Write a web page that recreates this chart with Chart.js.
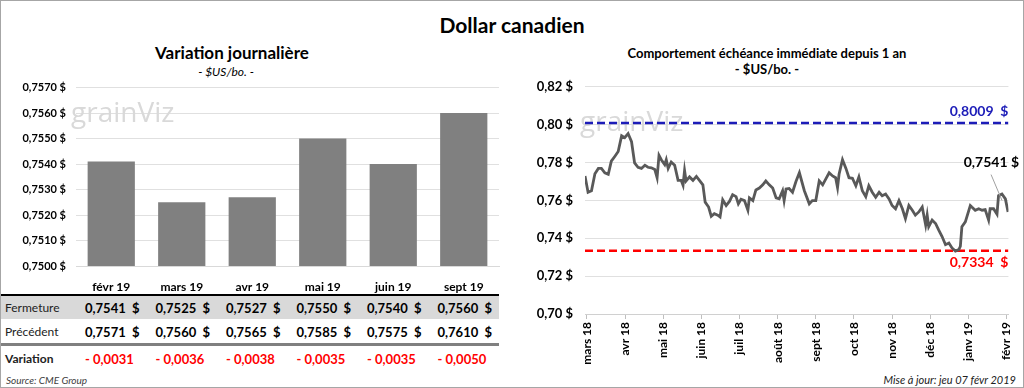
<!DOCTYPE html>
<html>
<head>
<meta charset="utf-8">
<script src="https://cdn.jsdelivr.net/npm/chart.js@4.4.1/dist/chart.umd.min.js"></script>
<style>
  body { margin: 0; background: #fff; font-family: Lato, "Open Sans", sans-serif; }
  #frame { position: relative; width: 1022px; height: 386px; border: 1px solid #a6a6a6; overflow: hidden; }
  .txt { position: absolute; white-space: nowrap; color: #000; }
  canvas { position: absolute; }
  .row { position: absolute; left: 0; width: 498px; height: 23px; display: flex; align-items: center; font-size: 13px; }
  .row .lab { width: 75px; padding-left: 4px; box-sizing: border-box; font-size: 12px; }
  .row .cell { width: 70.5px; padding-left: 9px; box-sizing: border-box; font-weight: bold; }
</style>
</head>
<body>
<div id="frame">
  <div class="txt" style="left:0;width:1022px;top:11px;text-align:center;font-weight:bold;font-size:21px;">Dollar canadien</div>

  <div class="txt" style="left:0;width:462px;top:41px;text-align:center;font-weight:bold;font-size:17px;">Variation journalière</div>
  <div class="txt" style="left:0;width:450px;top:63px;text-align:center;font-style:italic;font-size:12px;">- $US/bo. -</div>

  <div class="txt" style="left:512px;width:508px;top:44px;text-align:center;font-weight:bold;font-size:13px;">Comportement échéance immédiate depuis 1 an</div>
  <div class="txt" style="left:512px;width:508px;top:60px;text-align:center;font-weight:bold;font-size:13px;">- $US/bo. -</div>

  <canvas id="barChart" width="505" height="225" style="left:0;top:70px;"></canvas>
  <canvas id="lineChart" width="512" height="297" style="left:511px;top:66px;"></canvas>

  <div id="table"></div>

  <div class="txt" style="left:5px;top:373px;font-style:italic;font-size:10px;color:#404040;">Source: CME Group</div>
  <div class="txt" style="right:7px;top:372px;font-style:italic;font-size:11px;color:#202020;">Mise à jour: jeu 07 févr 2019</div>
</div>

<script>
// ---- bar chart / table data ----
const contracts = ['févr 19', 'mars 19', 'avr 19', 'mai 19', 'juin 19', 'sept 19'];
const closeValues = [0.7541, 0.7525, 0.7527, 0.7550, 0.7540, 0.7560];
const previousValues = [0.7571, 0.7560, 0.7565, 0.7585, 0.7575, 0.7610];
const changeValues = [-0.0031, -0.0036, -0.0038, -0.0035, -0.0035, -0.0050];

// ---- line chart data (x = months since mars 18) ----
const monthLabels = ['mars 18', 'avr 18', 'mai 18', 'juin 18', 'juil 18', 'août 18',
                     'sept 18', 'oct 18', 'nov 18', 'déc 18', 'janv 19', 'févr 19'];
const lineMonths = [
  -0.05, 0.03, 0.12, 0.21, 0.30, 0.38, 0.47, 0.56, 0.64, 0.73, 0.82, 0.91, 0.99, 1.08, 1.17,
  1.25, 1.34, 1.43, 1.52, 1.60, 1.69, 1.78, 1.84, 1.89, 1.95, 2.04, 2.08, 2.13, 2.21, 2.30,
  2.39, 2.47, 2.52, 2.56, 2.60, 2.69, 2.78, 2.87, 2.95, 3.04, 3.10, 3.19, 3.26, 3.34, 3.43,
  3.49, 3.56, 3.65, 3.74, 3.82, 3.91, 3.97, 4.04, 4.13, 4.22, 4.26, 4.35, 4.43, 4.52, 4.61,
  4.69, 4.78, 4.87, 4.96, 5.04, 5.13, 5.17, 5.22, 5.30, 5.39, 5.48, 5.57, 5.70, 5.83, 5.91,
  6.00, 6.09, 6.18, 6.26, 6.35, 6.44, 6.52, 6.57, 6.61, 6.70, 6.79, 6.87, 6.96, 7.05, 7.13,
  7.22, 7.31, 7.39, 7.48, 7.57, 7.66, 7.74, 7.83, 7.92, 8.00, 8.09, 8.18, 8.27, 8.35, 8.44,
  8.53, 8.61, 8.70, 8.79, 8.88, 8.92, 8.96, 9.05, 9.14, 9.22, 9.31, 9.40, 9.49, 9.57, 9.66,
  9.75, 9.79, 9.83, 9.92, 10.05, 10.09, 10.18, 10.27, 10.36, 10.44, 10.53, 10.57, 10.66, 10.75, 10.79,
  10.88, 10.97, 11.04
];
const lineValues = [
  0.7729, 0.7643, 0.7651, 0.7741, 0.7769, 0.7769, 0.7746, 0.7738, 0.7807, 0.7832, 0.7858, 0.7941, 0.7931, 0.7953, 0.7910,
  0.7798, 0.7775, 0.7769, 0.7786, 0.7775, 0.7772, 0.7763, 0.7720, 0.7838, 0.7815, 0.7789, 0.7815, 0.7769, 0.7803, 0.7786,
  0.7706, 0.7706, 0.7680, 0.7758, 0.7703, 0.7724, 0.7706, 0.7727, 0.7706, 0.7682, 0.7591, 0.7565, 0.7516, 0.7530, 0.7522,
  0.7513, 0.7603, 0.7573, 0.7596, 0.7630, 0.7620, 0.7582, 0.7606, 0.7599, 0.7548, 0.7613, 0.7599, 0.7655, 0.7665, 0.7682,
  0.7703, 0.7682, 0.7665, 0.7613, 0.7608, 0.7651, 0.7599, 0.7660, 0.7663, 0.7643, 0.7700, 0.7746, 0.7651, 0.7582, 0.7599,
  0.7599, 0.7703, 0.7682, 0.7712, 0.7746, 0.7729, 0.7720, 0.7668, 0.7738, 0.7815, 0.7769, 0.7720, 0.7717, 0.7677, 0.7724,
  0.7651, 0.7620, 0.7677, 0.7643, 0.7617, 0.7643, 0.7625, 0.7634, 0.7608, 0.7573, 0.7556, 0.7599, 0.7556, 0.7504, 0.7573,
  0.7548, 0.7522, 0.7539, 0.7565, 0.7470, 0.7522, 0.7461, 0.7496, 0.7478, 0.7444, 0.7409, 0.7366, 0.7375, 0.7349, 0.7332,
  0.7340, 0.7358, 0.7461, 0.7487, 0.7573, 0.7565, 0.7548, 0.7556, 0.7548, 0.7551, 0.7496, 0.7556, 0.7556, 0.7527, 0.7625,
  0.7634, 0.7608, 0.7539
];
const highValue = 0.8009;
const lowValue = 0.7334;
const lastValue = 0.7541;

const fontFamily = 'Lato, "Open Sans", sans-serif';

function fmt(v, d) {
    return v.toFixed(d).replace('.', ',');
}

// ---- table under the bars ----
function buildTable() {
    const t = document.getElementById('table');
    const rows = [
        { label: 'Fermeture', values: closeValues.map(v => fmt(v, 4) + '&nbsp;&nbsp;$'), top: 295, bg: '#d9d9d9', bold: false, color: '#000' },
        { label: 'Précédent', values: previousValues.map(v => fmt(v, 4) + '&nbsp;&nbsp;$'), top: 319, bg: '#fff', bold: false, color: '#000' },
        { label: 'Variation', values: changeValues.map(v => '- ' + fmt(Math.abs(v), 4)), top: 346, bg: '#fff', bold: true, color: '#ff0000' }
    ];
    let html = '<div style="position:absolute;left:0;top:293px;width:498px;height:2px;background:#000;"></div>';
    html += '<div style="position:absolute;left:0;top:342px;width:498px;height:3px;background:#808080;"></div>';
    rows.forEach(r => {
        html += `<div class="row" style="top:${r.top}px;background:${r.bg};">`;
        html += `<div class="lab" style="font-weight:${r.bold ? 'bold' : 'normal'};color:#222;">${r.label}</div>`;
        r.values.forEach(v => { html += `<div class="cell" style="color:${r.color};">${v}</div>`; });
        html += '</div>';
    });
    t.innerHTML = html;
}
buildTable();

// faint logo behind the plots
const watermark = {
    id: 'watermark',
    beforeDatasetsDraw(chart, args, opts) {
        const ctx = chart.ctx;
        ctx.save();
        ctx.font = '28px "Open Sans", ' + fontFamily;
        ctx.fillStyle = '#d9d9d9';
        ctx.textBaseline = 'middle';
        ctx.fillText('grainViz', chart.chartArea.left + opts.dx, chart.chartArea.top + opts.dy);
        ctx.restore();
    }
};

// labels for the high / low / last lines
const lineLabels = {
    id: 'lineLabels',
    afterDatasetsDraw(chart) {
        const ctx = chart.ctx;
        const y = chart.scales.y;
        const x = chart.scales.x;
        const right = chart.chartArea.right;
        ctx.save();
        ctx.font = 'bold 14px ' + fontFamily;
        ctx.textAlign = 'right';

        ctx.fillStyle = '#1c1cb8';
        ctx.textBaseline = 'bottom';
        ctx.fillText(fmt(highValue, 4) + '  $', right, y.getPixelForValue(highValue) - 4);

        ctx.fillStyle = '#ff0000';
        ctx.textBaseline = 'top';
        ctx.fillText(fmt(lowValue, 4) + '  $', right, y.getPixelForValue(lowValue) + 5);

        const lx = x.getPixelForValue(lineMonths[lineMonths.length - 1]);
        const ly = y.getPixelForValue(lastValue);
        ctx.strokeStyle = '#a0a0a0';
        ctx.lineWidth = 1;
        ctx.beginPath();
        ctx.moveTo(lx - 17, ly - 37);
        ctx.lineTo(lx - 6, ly - 11);
        ctx.stroke();

        ctx.fillStyle = '#000';
        ctx.textBaseline = 'middle';
        ctx.fillText(fmt(lastValue, 4) + ' $', lx + 11, ly - 49);
        ctx.restore();
    }
};

new Chart(document.getElementById('barChart').getContext('2d'), {
    type: 'bar',
    data: {
        labels: contracts,
        datasets: [{
            data: closeValues,
            backgroundColor: '#808080',
            barPercentage: 0.67,
            categoryPercentage: 1
        }]
    },
    options: {
        responsive: false,
        animation: false,
        devicePixelRatio: 1,
        layout: { padding: { top: 7, right: 7, left: 0, bottom: 0 } },
        scales: {
            y: {
                min: 0.75,
                max: 0.757,
                ticks: {
                    stepSize: 0.001,
                    padding: 10,
                    color: '#000',
                    font: { family: fontFamily, size: 11, weight: 'bold' },
                    callback: v => fmt(v, 4) + ' $'
                },
                grid: { color: '#e0e0e0', drawTicks: false },
                border: { display: false },
                afterFit: s => { s.width = 75; }
            },
            x: {
                ticks: {
                    padding: 6,
                    color: '#000',
                    font: { family: fontFamily, size: 12, weight: 'bold' }
                },
                grid: { display: false },
                border: { color: '#d9d9d9' },
                afterFit: s => { s.height = 30; }
            }
        },
        plugins: {
            legend: { display: false },
            tooltip: { enabled: false },
            watermark: { dx: -5, dy: 26 }
        }
    },
    plugins: [watermark]
});

new Chart(document.getElementById('lineChart').getContext('2d'), {
    type: 'line',
    data: {
        datasets: [
            {
                data: lineMonths.map((m, i) => ({ x: m, y: lineValues[i] })),
                borderColor: '#595959',
                borderWidth: 2.8,
                pointRadius: 0,
                tension: 0
            },
            {
                data: [{ x: -0.05, y: highValue }, { x: 11.05, y: highValue }],
                borderColor: '#1c1cb8',
                borderWidth: 2.5,
                borderDash: [8, 4],
                pointRadius: 0
            },
            {
                data: [{ x: -0.05, y: lowValue }, { x: 11.05, y: lowValue }],
                borderColor: '#ff0000',
                borderWidth: 2.5,
                borderDash: [8, 4],
                pointRadius: 0
            }
        ]
    },
    options: {
        responsive: false,
        animation: false,
        devicePixelRatio: 1,
        layout: { padding: { top: 8, right: 15, left: 0, bottom: 0 } },
        scales: {
            y: {
                min: 0.70,
                max: 0.82,
                ticks: {
                    stepSize: 0.02,
                    padding: 12,
                    color: '#000',
                    font: { family: fontFamily, size: 13, weight: 'bold' },
                    callback: v => fmt(v, 2) + ' $'
                },
                grid: { color: '#e0e0e0', drawTicks: false },
                border: { display: false },
                afterFit: s => { s.width = 73; }
            },
            x: {
                type: 'linear',
                min: -0.05,
                max: 11.05,
                afterBuildTicks: s => { s.ticks = monthLabels.map((l, i) => ({ value: i })); },
                ticks: {
                    autoSkip: false,
                    maxRotation: 90,
                    minRotation: 90,
                    padding: 3,
                    color: '#000',
                    font: { family: fontFamily, size: 12, weight: 'bold' },
                    callback: v => monthLabels[v]
                },
                grid: { drawOnChartArea: false, color: '#bfbfbf', tickLength: 5 },
                border: { color: '#d0d0d0' },
                afterFit: s => { s.height = 50; }
            }
        },
        plugins: {
            legend: { display: false },
            tooltip: { enabled: false },
            watermark: { dx: -5, dy: 36 }
        }
    },
    plugins: [watermark, lineLabels]
});
</script>
</body>
</html>
